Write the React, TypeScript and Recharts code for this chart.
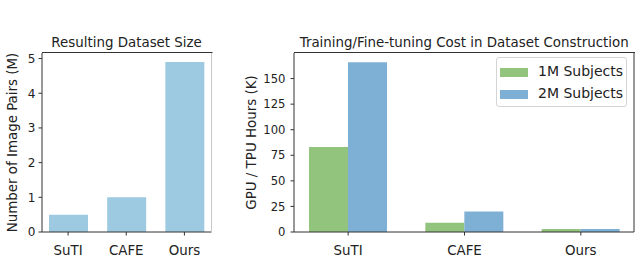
import React from "react";
import { BarChart, Bar, XAxis, YAxis, Legend } from "recharts";

const categories = ["SuTI", "CAFE", "Ours"];
const datasetSize = [0.5, 1.0, 4.9];
const cost1M = [83, 9, 3];
const cost2M = [166, 20, 3];
const sizeTicks = [0, 1, 2, 3, 4, 5];
const costTicks = [0, 25, 50, 75, 100, 125, 150];
const seriesNames = ["1M Subjects", "2M Subjects"];
const SIZE_MAX = 5.16;
const COST_MAX = 175;

const SIZE_COLOR = "#9ecae1";
const COST_COLORS = ["#93c47d", "#7eb0d5"];
const AXIS = "#333";
const TEXT = "#222";

// layout of the two panels
const PLOT_TOP = 53;
const LEFT_W = 230;
const LEFT_YAXIS = 42;
const LEFT_RIGHT_MARGIN = 17.5;
const RIGHT_X = 230;
const RIGHT_W = 410;
const RIGHT_YAXIS = 64;
const RIGHT_RIGHT_MARGIN = 5;

const sizeData = categories.map((name, i) => ({ name, size: datasetSize[i] }));
const costData = categories.map((name, i) => ({ name, c1: cost1M[i], c2: cost2M[i] }));

function CostLegend({ payload }: any) {
  const items = (payload ?? []).filter((p: any) => p.type !== "none");
  return (
    <div
      style={{
        position: "relative",
        width: 131,
        height: 50,
        boxSizing: "border-box",
        border: "1px solid #d4d4d4",
        borderRadius: 3,
        background: "#fff",
        fontSize: 14,
        color: TEXT,
      }}
    >
      {items.map((p: any, i: number) => (
        <React.Fragment key={p.value}>
          <div
            style={{
              position: "absolute",
              left: 3,
              top: 10 + i * 22,
              width: 28,
              height: 9,
              background: p.color,
            }}
          />
          <div style={{ position: "absolute", left: 41, top: 5 + i * 22, lineHeight: "16px", whiteSpace: "nowrap" }}>
            {p.value}
          </div>
        </React.Fragment>
      ))}
    </div>
  );
}

export default function App() {
  const leftPlotR = LEFT_W - LEFT_RIGHT_MARGIN - 1;
  const rightPlotL = RIGHT_X + RIGHT_YAXIS;
  const rightPlotR = RIGHT_X + RIGHT_W - RIGHT_RIGHT_MARGIN - 1;
  return (
    <div
      style={{
        position: "absolute",
        left: 0,
        top: 0,
        width: 640,
        height: 258,
        background: "#fff",
        fontFamily: "'DejaVu Sans', sans-serif",
        overflow: "hidden",
      }}
    >
      <div style={{ position: "absolute", left: 0, top: 0 }}>
        <BarChart
          width={LEFT_W}
          height={258}
          data={sizeData}
          margin={{ top: PLOT_TOP, right: LEFT_RIGHT_MARGIN, bottom: 0, left: 0 }}
        >
          <XAxis
            dataKey="name"
            height={26}
            padding={{ left: -3, right: -2 }}
            tickSize={3.5}
            tickMargin={10}
            tick={{ fontSize: 13.4, fill: TEXT }}
            tickLine={{ stroke: AXIS }}
            axisLine={{ stroke: AXIS }}
          />
          <YAxis
            width={LEFT_YAXIS}
            domain={[0, SIZE_MAX]}
            ticks={sizeTicks}
            tickSize={3.5}
            tickMargin={3}
            tick={{ fontSize: 12, fill: TEXT }}
            tickLine={{ stroke: AXIS }}
            axisLine={{ stroke: AXIS }}
            label={{
              value: "Number of Image Pairs (M)",
              angle: -90,
              position: "insideLeft",
              offset: 12,
              fontSize: 13.4,
              fill: TEXT,
              style: { textAnchor: "middle" },
            }}
          />
          <YAxis
            yAxisId="right"
            orientation="right"
            width={1}
            domain={[0, SIZE_MAX]}
            tick={false}
            tickLine={false}
            axisLine={{ stroke: "#c8c8c8" }}
          />
          <Bar dataKey="size" fill={SIZE_COLOR} barSize={39} isAnimationActive={false} />
        </BarChart>
      </div>

      <div style={{ position: "absolute", left: RIGHT_X, top: 0 }}>
        <BarChart
          width={RIGHT_W}
          height={258}
          data={costData}
          barGap={0}
          margin={{ top: PLOT_TOP, right: RIGHT_RIGHT_MARGIN, bottom: 0, left: 0 }}
        >
          <XAxis
            dataKey="name"
            height={26}
            padding={{ left: -4, right: -5 }}
            tickSize={3.5}
            tickMargin={10}
            tick={{ fontSize: 13.4, fill: TEXT }}
            tickLine={{ stroke: AXIS }}
            axisLine={{ stroke: AXIS }}
          />
          <YAxis
            width={RIGHT_YAXIS}
            domain={[0, COST_MAX]}
            ticks={costTicks}
            tickSize={3.5}
            tickMargin={5}
            tick={{ fontSize: 11.6, fill: TEXT }}
            tickLine={{ stroke: AXIS }}
            axisLine={{ stroke: AXIS }}
            label={{
              value: "GPU / TPU Hours (K)",
              angle: -90,
              position: "insideLeft",
              offset: 21,
              fontSize: 13.4,
              fill: TEXT,
              style: { textAnchor: "middle" },
            }}
          />
          <YAxis
            yAxisId="right"
            orientation="right"
            width={1}
            domain={[0, COST_MAX]}
            tick={false}
            tickLine={false}
            axisLine={{ stroke: AXIS }}
          />
          <Legend
            layout="vertical"
            align="center"
            verticalAlign="middle"
            content={<CostLegend />}
            wrapperStyle={{ left: 266, top: 57, width: 131, height: 50 }}
          />
          <Bar dataKey="c1" name={seriesNames[0]} fill={COST_COLORS[0]} barSize={39} isAnimationActive={false} />
          <Bar dataKey="c2" name={seriesNames[1]} fill={COST_COLORS[1]} barSize={39} isAnimationActive={false} />
        </BarChart>
      </div>

      <svg
        width={640}
        height={258}
        style={{ position: "absolute", left: 0, top: 0, pointerEvents: "none" }}
      >
        {/* top spines */}
        <line x1={LEFT_YAXIS} x2={leftPlotR + 1} y1={PLOT_TOP - 0.5} y2={PLOT_TOP - 0.5} stroke={AXIS} />
        <line x1={rightPlotL} x2={rightPlotR + 1} y1={PLOT_TOP - 0.5} y2={PLOT_TOP - 0.5} stroke={AXIS} />
        <text x={126.6} y={46.5} textAnchor="middle" fontSize={13.4} fill={TEXT}>
          Resulting Dataset Size
        </text>
        <text x={464.2} y={46.5} textAnchor="middle" fontSize={13.4} fill={TEXT}>
          Training/Fine-tuning Cost in Dataset Construction
        </text>
      </svg>
    </div>
  );
}
